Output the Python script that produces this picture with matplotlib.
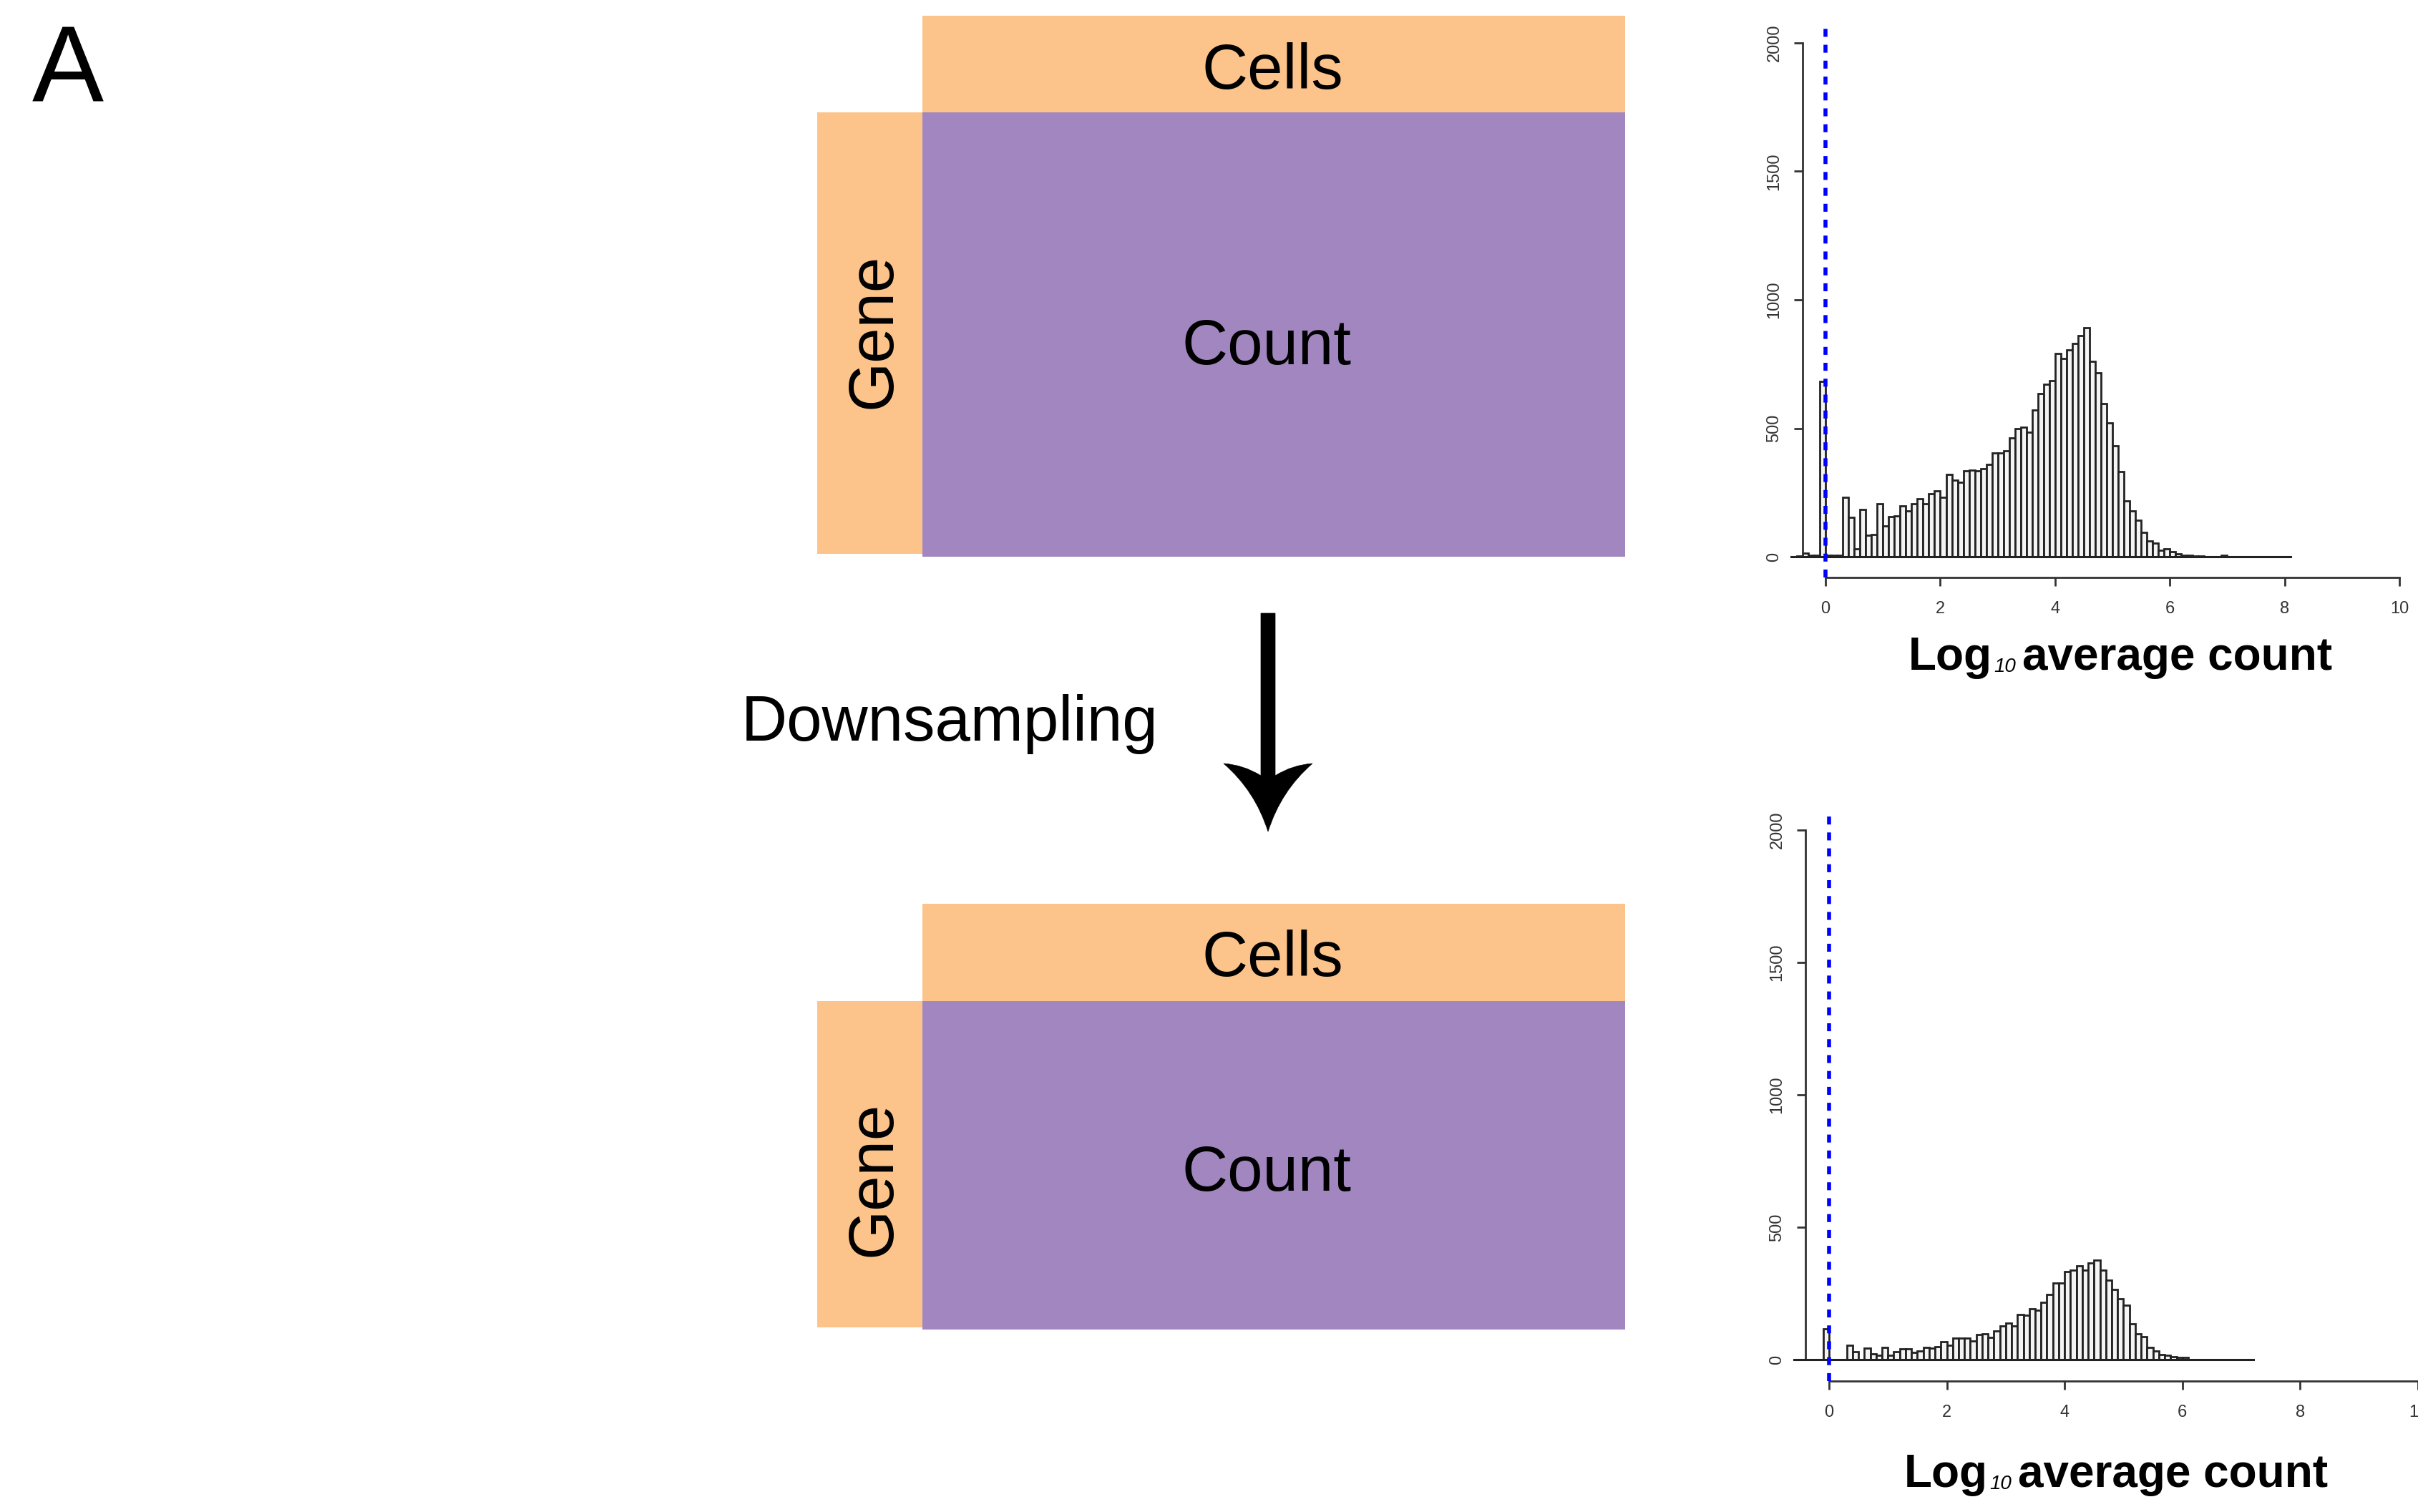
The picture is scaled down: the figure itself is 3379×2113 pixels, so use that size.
import numpy as np
import matplotlib.pyplot as plt
from matplotlib.patches import Rectangle, PathPatch
from matplotlib.path import Path

plt.rcParams['font.family'] = ['Liberation Sans', 'DejaVu Sans']

# histogram of log10 average count per gene, bins of 0.1 starting at -0.6
bin_start = -0.6
bin_width = 0.1
full_counts = [2, 3, 15, 5, 6, 682, 5, 6, 7, 233, 153, 30, 185, 83, 88, 208, 120, 157, 160, 199,
               180, 208, 227, 208, 247, 258, 231, 322, 298, 290, 336, 338, 336, 344, 361, 405, 405,
               412, 462, 498, 505, 486, 572, 634, 671, 685, 792, 773, 806, 829, 861, 891, 761, 715,
               597, 520, 433, 333, 218, 179, 144, 95, 63, 53, 25, 30, 19, 11, 7, 5, 3, 3, 2, 1, 1,
               5, 1, 1, 0, 1, 0, 0, 0, 0, 1, 0, 0]
down_counts = [0, 0, 0, 0, 0, 117, 0, 0, 0, 54, 32, 2, 45, 23, 18, 48, 16, 32, 41, 42, 27, 33, 48,
               43, 50, 68, 56, 81, 81, 81, 70, 95, 97, 86, 108, 128, 138, 129, 171, 169, 194, 187,
               216, 248, 290, 290, 332, 338, 356, 338, 365, 376, 338, 302, 266, 230, 207, 137, 99,
               88, 47, 34, 21, 18, 11, 9, 9, 2, 2, 2, 1, 2, 0, 0, 0, 0, 0, 0]
x_ticks = [0, 2, 4, 6, 8, 10]
y_ticks = [0, 500, 1000, 1500, 2000]
threshold = 0

ORANGE = '#FCC48B'
PURPLE = '#A286BF'

W, H = 3379, 2113
fig = plt.figure(figsize=(W / 100, H / 100), dpi=100)

# pixel-space canvas for the schematic
bg = fig.add_axes([0, 0, 1, 1])
bg.set_xlim(0, W)
bg.set_ylim(H, 0)
bg.axis('off')

box_fs = 64


def matrix(top, cells_bottom, gene_bottom, count_bottom, cells_base, count_base, gene_mid):
    bg.add_patch(Rectangle((1289, top), 982, cells_bottom - top, color=ORANGE, lw=0))
    bg.add_patch(Rectangle((1142, cells_bottom), 147, gene_bottom - cells_bottom, color=ORANGE, lw=0))
    bg.add_patch(Rectangle((1289, cells_bottom), 982, count_bottom - cells_bottom, color=PURPLE, lw=0))
    bg.text(1778, cells_base, 'Cells', fontsize=box_fs, ha='center', va='baseline')
    bg.text(1770, count_base, 'Count', fontsize=box_fs, ha='center', va='baseline')
    bg.text(1244, gene_mid, 'Gene', fontsize=box_fs, ha='center', va='baseline',
            rotation=90, rotation_mode='anchor')


matrix(22, 157, 774, 778, 124, 509, 462)
matrix(1263, 1399, 1855, 1858, 1364, 1664, 1647)

bg.text(95, 141, 'A', fontsize=108, ha='center', va='baseline')
bg.text(1327, 1035, 'Downsampling', fontsize=box_fs, ha='center', va='baseline')

# down arrow with swept head
cx = 1772
verts = [(1762, 857), (1782, 857), (1782, 1084),
         (1806, 1069), (1834, 1067),
         (1790, 1105), (cx, 1162),
         (1754, 1105), (1710, 1067),
         (1738, 1069), (1762, 1084),
         (1762, 857)]
codes = [Path.MOVETO, Path.LINETO, Path.LINETO,
         Path.CURVE3, Path.CURVE3,
         Path.CURVE3, Path.CURVE3,
         Path.CURVE3, Path.CURVE3,
         Path.CURVE3, Path.CURVE3,
         Path.CLOSEPOLY]
bg.add_patch(PathPatch(Path(verts, codes), facecolor='black', edgecolor='black', lw=0.5))


def hist_panel(left, right, top, bottom, unit_px, counts):
    ax = fig.add_axes([left / W, 1 - bottom / H, (right - left) / W, (bottom - top) / H])
    ax.patch.set_alpha(0)
    edges = bin_start + bin_width * np.arange(len(counts) + 1)
    ax.bar(edges[:-1], counts, width=bin_width, align='edge', facecolor='#f4f4f4',
           edgecolor='#222222', linewidth=2.0, clip_on=False, zorder=2)
    ax.plot([edges[0], edges[-1]], [0, 0], color='#222222', lw=2.2, clip_on=False, zorder=3)
    ax.axvline(threshold, color='#0000ff', lw=4, linestyle=(0, (2.0, 2.0)), zorder=4)
    ax.set_xlim(-0.4, -0.4 + (right - left) / unit_px)
    ax.set_ylim(-80, 2080)
    for side in ('top', 'right'):
        ax.spines[side].set_visible(False)
    for side in ('left', 'bottom'):
        ax.spines[side].set_color('#333333')
        ax.spines[side].set_linewidth(2.0)
    ax.spines['bottom'].set_bounds(x_ticks[0], x_ticks[-1])
    ax.spines['left'].set_bounds(y_ticks[0], y_ticks[-1])
    ax.set_xticks(x_ticks)
    ax.set_yticks(y_ticks)
    ax.tick_params(direction='out', length=8.6, width=2.0, color='#333333',
                   labelsize=17, labelcolor='#333333')
    ax.tick_params(axis='x', pad=15)
    ax.tick_params(axis='y', pad=12)
    for lab in ax.get_yticklabels():
        lab.set_rotation(90)
        lab.set_va('center')
    return ax


hist_panel(2519, W, 31, 807, 80.2, full_counts)
hist_panel(2523, W, 1130, 1930, 82.4, down_counts)

renderer = fig.canvas.get_renderer()


def axis_title(xc, yb):
    t1 = bg.text(0, yb, 'Log', fontsize=46, fontweight='bold', va='baseline', ha='left')
    t2 = bg.text(0, yb + 3, '10', fontsize=20, fontstyle='italic', va='baseline', ha='left')
    t3 = bg.text(0, yb, 'average count', fontsize=46, fontweight='bold', va='baseline', ha='left')
    parts = [t1, t2, t3]
    widths = [t.get_window_extent(renderer).width for t in parts]
    gaps = [3, 9, 0]
    x = xc - (sum(widths) + sum(gaps)) / 2
    for t, w, g in zip(parts, widths, gaps):
        t.set_x(x)
        x += w + g


axis_title(2963, 936)
axis_title(2957, 2078)

fig.savefig('out.png', dpi=100)
